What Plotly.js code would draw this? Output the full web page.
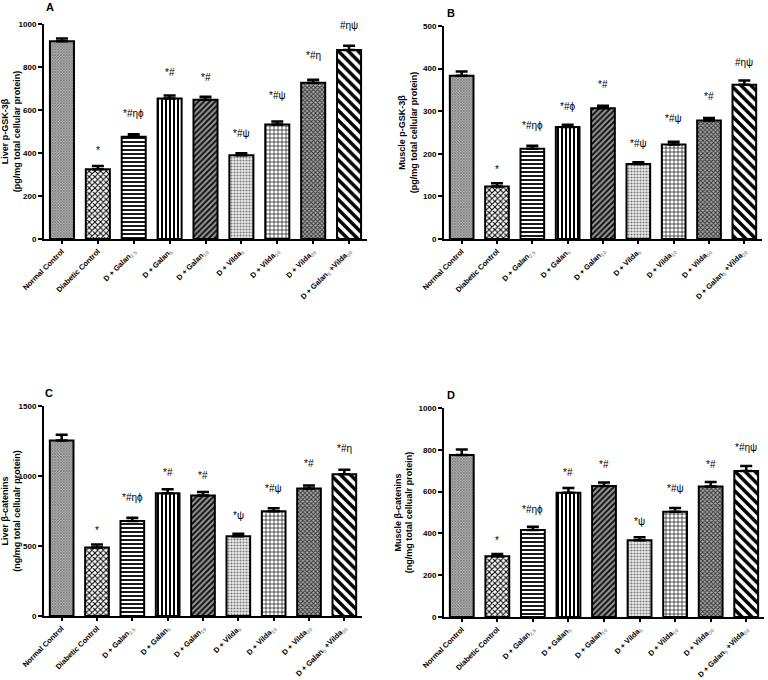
<!DOCTYPE html>
<html>
<head>
<meta charset="utf-8">
<script src="https://cdn.plot.ly/plotly-3.0.1.min.js"></script>
<style>html,body{margin:0;padding:0;background:#fff}#chart{width:768px;height:680px}</style>
</head>
<body>
<div id="chart"></div>
<script>
// ---------- data ----------
const groups = ["Normal Control","Diabetic Control","D + Galan2.5","D + Galan5","D + Galan10","D + Vilda5","D + Vilda10","D + Vilda30","D + Galan5 +Vilda30"];
const tickLabels = [
  "Normal Control","Diabetic Control",
  "D + Galan<sub><span style='color:#9a9a9a'>2.5</span></sub>",
  "D + Galan<sub><span style='color:#9a9a9a'>5</span></sub>",
  "D + Galan<sub><span style='color:#9a9a9a'>10</span></sub>",
  "D + Vilda<sub><span style='color:#9a9a9a'>5</span></sub>",
  "D + Vilda<sub><span style='color:#9a9a9a'>10</span></sub>",
  "D + Vilda<sub><span style='color:#9a9a9a'>30</span></sub>",
  "D + Galan<sub><span style='color:#9a9a9a'>5</span></sub> +Vilda<sub><span style='color:#9a9a9a'>30</span></sub>"
];

// Panel A: Liver p-GSK-3β
const liverGSK     = [920, 324, 476, 653, 648, 389, 532, 727, 879];
const liverGSKErr  = [12, 15, 11, 14, 14, 10, 15, 14, 20];
const liverGSKSig  = ["", "*", "*#ηϕ", "*#", "*#", "*#ψ", "*#ψ", "*#η", "#ηψ"];
const liverGSKSigY = [0, 412, 585, 775, 750, 490, 667, 855, 995];

// Panel B: Muscle p-GSK-3β
const muscleGSK     = [383, 123, 212, 263, 307, 176, 222, 278, 362];
const muscleGSKErr  = [10, 8, 7, 5, 6, 4, 6, 6, 10];
const muscleGSKSig  = ["", "*", "*#ηϕ", "*#ϕ", "*#", "*#ψ", "*#ψ", "*#", "#ηψ"];
const muscleGSKSigY = [0, 162, 267, 311, 363, 225, 282, 334, 415];

// Panel C: Liver β-catenins
const liverCat     = [1254, 489, 678, 876, 860, 569, 749, 910, 1013];
const liverCatErr  = [41, 21, 24, 29, 26, 19, 21, 23, 31];
const liverCatSig  = ["", "*", "*#ηϕ", "*#", "*#", "*ψ", "*#ψ", "*#", "*#η"];
const liverCatSigY = [0, 614, 846, 1023, 1004, 720, 909, 1087, 1193];

// Panel D: Muscle β-catenins
const muscleCat     = [775, 291, 416, 595, 627, 367, 503, 625, 699];
const muscleCatErr  = [27, 11, 16, 22, 17, 14, 18, 21, 24];
const muscleCatSig  = ["", "*", "*#ηϕ", "*#", "*#", "*ψ", "*#ψ", "*#", "*#ηψ"];
const muscleCatSigY = [0, 365, 516, 690, 728, 459, 617, 728, 812];

// ---------- styles ----------
const FONT = "Liberation Sans, Arial, sans-serif";
const pattern = {
  shape:   ["x", "x", "-", "|", "/", ".", "+", "x", "\\"],
  size:    [2, 4, 4, 4, 4, 3, 4, 3, 7],
  solidity:[0.5, 0.45, 0.45, 0.5, 0.5, 0.4, 0.3, 0.5, 0.5],
  fgcolor: ["#666", "#000", "#000", "#000", "#111", "#777", "#000", "#333", "#000"],
  bgcolor: ["#b5b5b5", "#fff", "#fff", "#fff", "#999", "#eee", "#fff", "#aaa", "#fff"]
};

function barTrace(vals, errs, ax) {
  return {
    type: "bar",
    x: groups.map((g, i) => i),
    y: vals,
    width: 0.67,
    xaxis: "x" + ax, yaxis: "y" + ax,
    marker: {color: "#fff", line: {color: "#000", width: 2}, pattern: pattern},
    error_y: {type: "data", symmetric: false, array: errs, arrayminus: errs.map(() => 0),
              color: "#000", thickness: 2.5, width: 6},
    showlegend: false, hoverinfo: "skip"
  };
}
function sigAnn(sig, sy, ax) {
  return sig.map((s, i) => ({
    x: i, y: sy[i], text: s, xref: "x" + ax, yref: "y" + ax,
    showarrow: false, font: {family: FONT, size: 10, color: "#000"}
  })).filter(a => a.text !== "");
}

const W = 768, H = 680;
function xd(a, b) { return [a / W, b / W]; }
function yd(top, bottom) { return [1 - bottom / H, 1 - top / H]; }

function xAxis(dom, yanchor) {
  return {
    domain: dom, anchor: yanchor, range: [-0.5, 8.5],
    tickmode: "array", tickvals: groups.map((g, i) => i), ticktext: tickLabels,
    tickangle: -45, ticks: "outside", ticklen: 3, tickwidth: 2, tickcolor: "#000",
    showline: true, linecolor: "#000", linewidth: 2, showgrid: false, zeroline: false,
    tickfont: {family: FONT, size: 7.5, color: "#000", weight: "bold"}, fixedrange: true
  };
}
function yAxis(dom, xanchor, range, dtick, title) {
  return {
    domain: dom, anchor: xanchor, range: range, dtick: dtick,
    ticks: "outside", ticklen: 4, tickwidth: 2, tickcolor: "#000",
    showline: true, linecolor: "#000", linewidth: 2, showgrid: false, zeroline: false,
    tickfont: {family: FONT, size: 8, color: "#000", weight: "bold"},
    title: {text: title, font: {family: FONT, size: 9, color: "#000", weight: "bold"}, standoff: 4},
    fixedrange: true
  };
}

const data = [
  barTrace(liverGSK, liverGSKErr, ""),
  barTrace(muscleGSK, muscleGSKErr, "2"),
  barTrace(liverCat, liverCatErr, "3"),
  barTrace(muscleCat, muscleCatErr, "4")
];

function panelLabel(t, px, py) {
  return {text: "<b>" + t + "</b>", x: px / W, y: 1 - py / H, xref: "paper", yref: "paper",
          showarrow: false, xanchor: "center", yanchor: "middle",
          font: {family: FONT, size: 11, color: "#000"}};
}

const annotations = [].concat(
  sigAnn(liverGSKSig, liverGSKSigY, ""),
  sigAnn(muscleGSKSig, muscleGSKSigY, "2"),
  sigAnn(liverCatSig, liverCatSigY, "3"),
  sigAnn(muscleCatSig, muscleCatSigY, "4"),
  [panelLabel("A", 50, 7), panelLabel("B", 451, 13), panelLabel("C", 49, 393), panelLabel("D", 451, 395)]
);

const layout = {
  width: W, height: H, margin: {l: 0, r: 0, t: 0, b: 0},
  paper_bgcolor: "#fff", plot_bgcolor: "#fff",
  xaxis:  xAxis(xd(44, 367), "y"),
  yaxis:  yAxis(yd(24, 239), "x", [0, 1000], 200, "Liver p-GSK-3β<br>(pg/mg total cellular protein)"),
  xaxis2: xAxis(xd(444, 762), "y2"),
  yaxis2: yAxis(yd(26, 239), "x2", [0, 500], 100, "Muscle p-GSK-3β<br>(pg/mg total cellular protein)"),
  xaxis3: xAxis(xd(44, 362), "y3"),
  yaxis3: yAxis(yd(406, 616), "x3", [0, 1500], 500, "Liver β-catenins<br>(ng/mg total cellualr protein)"),
  xaxis4: xAxis(xd(444, 764), "y4"),
  yaxis4: yAxis(yd(408, 617), "x4", [0, 1000], 200, "Muscle β-catenins<br>(ng/mg total cellualr protein)"),
  annotations: annotations,
  font: {family: FONT}
};

Plotly.newPlot("chart", data, layout, {displayModeBar: false, staticPlot: true});
</script>
</body>
</html>
